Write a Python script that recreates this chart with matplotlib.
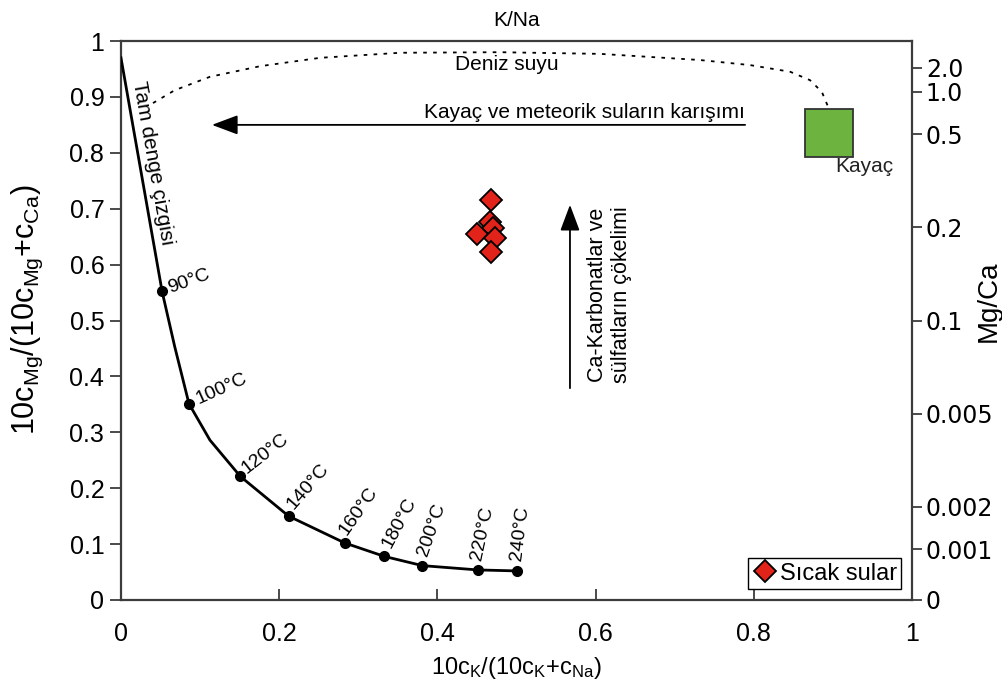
import matplotlib
matplotlib.use("Agg")
import matplotlib.pyplot as plt
from matplotlib.patches import Rectangle
from matplotlib.lines import Line2D

# ---- data -------------------------------------------------------------
# full equilibrium line (temperature nodes)
temp_labels = ["90°C", "100°C", "120°C", "140°C", "160°C", "180°C", "200°C", "220°C", "240°C"]
temp_x = [0.052, 0.086, 0.151, 0.212, 0.283, 0.333, 0.381, 0.451, 0.501]
temp_y = [0.552, 0.351, 0.221, 0.150, 0.102, 0.078, 0.0615, 0.0538, 0.052]

# full curve vertices (start of line, nodes and bends between them)
curve_x = [0.0, 0.052, 0.068, 0.086, 0.1125, 0.151, 0.212, 0.283, 0.333, 0.381, 0.451, 0.501]
curve_y = [0.970, 0.552, 0.453, 0.351, 0.286, 0.221, 0.150, 0.102, 0.078, 0.0615, 0.0538, 0.052]

# seawater trend (dotted)
sea_x = [0.0405, 0.068, 0.1125, 0.176, 0.252, 0.353, 0.479, 0.606, 0.732, 0.795, 0.846, 0.871, 0.886, 0.894, 0.895]
sea_y = [0.889, 0.912, 0.936, 0.955, 0.970, 0.979, 0.980, 0.977, 0.966, 0.957, 0.945, 0.930, 0.909, 0.882, 0.871]

# hot spring samples
hot_x = [0.468, 0.4665, 0.470, 0.450, 0.473, 0.468]
hot_y = [0.715, 0.676, 0.665, 0.654, 0.647, 0.622]

# rock field (x range, y range)
rock_x = [0.865, 0.925]
rock_y = [0.792, 0.878]

# right axis: Mg/Ca ratio and printed labels
mgca_ratio = [2.0, 1.0, 0.5, 0.2, 0.1, 0.05, 0.02, 0.01, 0.0]
mgca_labels = ["2.0", "1.0", "0.5", "0.2", "0.1", "0.005", "0.002", "0.001", "0"]

x_ticks = [0, 0.2, 0.4, 0.6, 0.8, 1]
x_ticklabels = ["0", "0.2", "0.4", "0.6", "0.8", "1"]
y_ticks = [0, 0.1, 0.2, 0.3, 0.4, 0.5, 0.6, 0.7, 0.8, 0.9, 1]
y_ticklabels = ["0", "0.1", "0.2", "0.3", "0.4", "0.5", "0.6", "0.7", "0.8", "0.9", "1"]

# ---- style ------------------------------------------------------------
MAIN = "Liberation Sans"
RIGHT = "DejaVu Sans"
plt.rcParams["font.family"] = [MAIN, "DejaVu Sans"]
plt.rcParams["mathtext.default"] = "regular"
SPINE = "#3c3c3c"
PX = 1 / 1.389  # one pixel in points at 100 dpi

fig = plt.figure(figsize=(10.03, 6.93), dpi=100)
ax = fig.add_axes([0.1206, 0.1342, 0.7887, 0.8066])
ax.set_xlim(0, 1)
ax.set_ylim(0, 1)

for s in ax.spines.values():
    s.set_color(SPINE)
    s.set_linewidth(1.6)

# equilibrium line
ax.plot(curve_x, curve_y, color="black", lw=2.0, zorder=3)
ax.plot(temp_x, temp_y, "o", color="black", ms=7, zorder=4)

label_style = [  # (dx px, dy px, rotation)
    (6, 3, 20), (8, 4, 24), (3, 6, 38), (1, 9, 49), (-2, 10, 55),
    (2, 10, 62), (0, 10, 71), (-1, 10, 78), (-1, 10, 83),
]
for lab, x, y, (dx, dy, rot) in zip(temp_labels, temp_x, temp_y, label_style):
    ax.annotate(lab, (x, y), xytext=(dx * PX, dy * PX), textcoords="offset points",
                ha="left", va="center", rotation=rot, rotation_mode="anchor",
                fontsize=14, zorder=5)

ax.text(0.040, 0.782, "Tam denge çizgisi", rotation=-80, rotation_mode="anchor",
        ha="center", va="center", fontsize=15)

# seawater
ax.plot(sea_x, sea_y, color="black", lw=1.3, linestyle=(0, (2, 3.5)), zorder=2)
ax.text(0.488, 0.948, "Deniz suyu", ha="center", va="baseline", fontsize=15)

# rock field
ax.add_patch(Rectangle((rock_x[0], rock_y[0]), rock_x[1] - rock_x[0], rock_y[1] - rock_y[0],
                       facecolor="#6db33f", edgecolor="#333333", lw=1.3, zorder=3))
ax.text(0.9027, 0.766, "Kayaç", ha="left", va="baseline", fontsize=15, color="#222222")

# mixing arrow
arrow = dict(arrowstyle="-|>,head_length=0.8,head_width=0.3", mutation_scale=20,
             lw=1.3, color="black", shrinkA=0, shrinkB=0)
ax.annotate("", xy=(0.115, 0.850), xytext=(0.789, 0.850), arrowprops=arrow)
ax.text(0.789, 0.862, "Kayaç ve meteorik suların karışımı", ha="right", va="baseline", fontsize=15)

# precipitation arrow
ax.annotate("", xy=(0.5676, 0.707), xytext=(0.5676, 0.379), arrowprops=arrow)
ax.text(0.618, 0.546, "Ca-Karbonatlar ve\nsülfatların çökelimi", rotation=90,
        ha="center", va="center", multialignment="center", fontsize=15.5, linespacing=1.2)

# samples
diamond = dict(marker="D", ms=11, markerfacecolor="#e2231a", markeredgecolor="black",
               markeredgewidth=1.3, linestyle="none")
ax.plot(hot_x, hot_y, zorder=6, **diamond)

handle = Line2D([], [], **diamond)
leg = ax.legend([handle], ["Sıcak sular"], loc="lower right", fancybox=False, framealpha=1,
                edgecolor="black", prop={"family": MAIN, "size": 17}, borderaxespad=0.45,
                handletextpad=0.05, borderpad=0.2, handlelength=1.1)
leg.get_frame().set_linewidth(1.0)

# axes ticks
ax.set_xticks(x_ticks)
ax.set_xticklabels(x_ticklabels, fontsize=18)
ax.set_yticks(y_ticks)
ax.set_yticklabels(y_ticklabels, fontsize=18)
ax.tick_params(axis="x", direction="in", length=8, width=1.3, color=SPINE, pad=16)
ax.tick_params(axis="y", direction="out", length=8, width=1.3, color=SPINE, pad=4)

ax.set_xlabel(r"10c$_{\mathregular{K}}$/(10c$_{\mathregular{K}}$+c$_{\mathregular{Na}}$)",
              fontsize=17)
ax.xaxis.set_label_coords(0.5, -0.098)
ax.set_ylabel(r"10c$_{\mathregular{Mg}}$/(10c$_{\mathregular{Mg}}$+c$_{\mathregular{Ca}}$)",
              fontsize=22)
ax.yaxis.set_label_coords(-0.096, 0.52)
ax.set_title("K/Na", fontsize=15, pad=11)

# right axis: Mg/Ca
ax2 = ax.twinx()
ax2.set_ylim(0, 1)
ax2.set_yticks([10 * r / (10 * r + 1) for r in mgca_ratio])
ax2.set_yticklabels(mgca_labels, fontfamily=RIGHT, fontsize=17)
ax2.tick_params(axis="y", direction="out", length=7, width=1.3, color=SPINE, pad=3)
for s in ax2.spines.values():
    s.set_visible(False)
ax2.set_ylabel("Mg/Ca", fontsize=20)
ax2.yaxis.set_label_coords(1.0805, 0.535)

fig.savefig("out.png", dpi=100)
